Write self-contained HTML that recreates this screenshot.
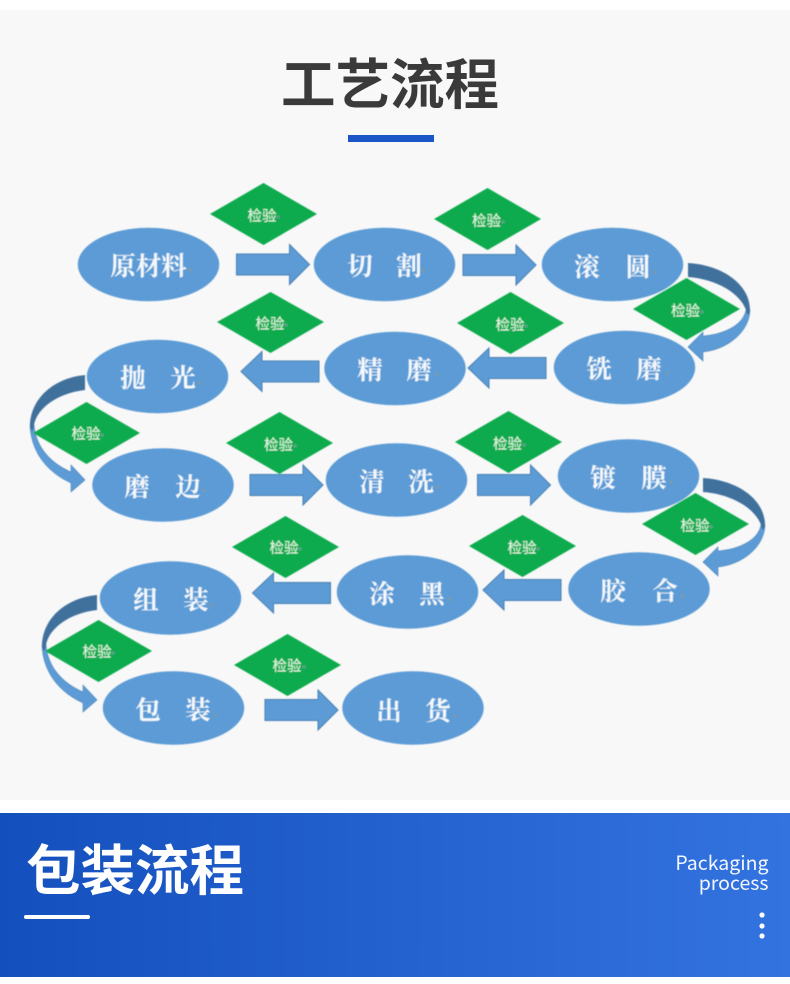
<!DOCTYPE html>
<html lang="zh"><head><meta charset="utf-8"><title>工艺流程</title>
<style>
html,body{margin:0;padding:0;background:#fff}
body{width:790px;height:984px;overflow:hidden;position:relative}
svg{position:absolute;left:0;top:0}
</style></head><body>
<svg width="790" height="984" viewBox="0 0 790 984" xmlns="http://www.w3.org/2000/svg">
<defs>
<linearGradient id="bn" x1="0" x2="1" y1="0" y2="0"><stop offset="0" stop-color="#1450bd"/><stop offset="1" stop-color="#3373e0"/></linearGradient>
<filter id="soft" x="-5%" y="-5%" width="110%" height="110%"><feGaussianBlur stdDeviation="0.5"/></filter>
<g id="ar"><path d="M0 -10.500H53V-20L73 0L53 20V10.500H0Z" fill="#5b9bd5" stroke="#4a80b4" stroke-width="1"/></g>
<g id="al"><path d="M0 -10.500H-57V-20L-78 0L-57 20V10.500H0Z" fill="#5b9bd5" stroke="#4a80b4" stroke-width="1"/></g>
<g id="cl">
<path d="M30 425C31 452 47 472 71 483V492L85 480L71 465V472C50 463 36 447 34 425Z" fill="#5b9bd5" stroke="#4f86bb" stroke-width=".6"/>
<path d="M85 375C54 378 31 398 30 425C31 432 33 433 34 425C37 408 58 393 85 390Z" fill="#41719c"/>
</g>
<g id="cr">
<path d="M750 310C749 332 728 349 703 352V361L688 347L703 332V336C725 334 743 325 746 310Z" fill="#5b9bd5" stroke="#4f86bb" stroke-width=".6"/>
<path d="M688 263C722 265 750 284 750 310C749 316 747 316 746 310C740 293 716 279 688 277Z" fill="#41719c"/>
</g>
</defs>
<rect x="0" y="10" width="790" height="790" fill="#f8f8f8"/>
<g filter="url(#soft)">
<use href="#cr"/><use href="#cr" transform="translate(15,215)"/>
<use href="#cl"/><use href="#cl" transform="translate(12,220)"/>
<g fill="#5b9bd5" stroke="#5b9bd5" stroke-width="0.500">
<ellipse cx="148.500" cy="264.500" rx="70.500" ry="36.500"/>
<ellipse cx="384.500" cy="264.500" rx="70.500" ry="36.500"/>
<ellipse cx="612.500" cy="264.500" rx="70.500" ry="36.500"/>
<ellipse cx="624.500" cy="367.500" rx="70.500" ry="36.500"/>
<ellipse cx="395" cy="368.500" rx="70.500" ry="36.500"/>
<ellipse cx="157.500" cy="376.500" rx="70.500" ry="36.500"/>
<ellipse cx="163" cy="485" rx="70.500" ry="36.500"/>
<ellipse cx="396.500" cy="480" rx="70.500" ry="36.500"/>
<ellipse cx="628.500" cy="476" rx="70.500" ry="36.500"/>
<ellipse cx="639" cy="589" rx="70.500" ry="36.500"/>
<ellipse cx="407.500" cy="592" rx="70.500" ry="36.500"/>
<ellipse cx="170.500" cy="598" rx="70.500" ry="36.500"/>
<ellipse cx="173.500" cy="708" rx="70.500" ry="36.500"/>
<ellipse cx="413" cy="708" rx="70.500" ry="36.500"/>
</g>
<use href="#ar" x="236.500" y="264.500"/><use href="#ar" x="463" y="265"/>
<use href="#al" x="319" y="371.500"/><use href="#al" x="546" y="368"/>
<use href="#ar" x="250" y="485"/><use href="#ar" x="477.500" y="485"/>
<use href="#al" x="330.500" y="593"/><use href="#al" x="561" y="590"/>
<use href="#ar" x="265" y="710"/>
<g fill="#0bab4d">
<path d="M210 214L263.500 183L317 214L263.500 245Z"/>
<path d="M434 219L487.500 188L541 219L487.500 250Z"/>
<path d="M633 309L686.500 278L740 309L686.500 340Z"/>
<path d="M217 322L270.500 292L324 322L270.500 353Z"/>
<path d="M457 323L510.500 292L564 323L510.500 354Z"/>
<path d="M33 433L86.500 402L140 433L86.500 464Z"/>
<path d="M226 443L279.500 412L333 443L279.500 474Z"/>
<path d="M455 442L508.500 411L562 442L508.500 473Z"/>
<path d="M642 524L695.500 493L749 524L695.500 555Z"/>
<path d="M232 547L285.500 516L339 547L285.500 578Z"/>
<path d="M469 546L522.500 515L576 546L522.500 577Z"/>
<path d="M45 651L98.500 620L152 651L98.500 682Z"/>
<path d="M234 665L287.500 634L341 665L287.500 696Z"/>
</g>
<g font-family="'Liberation Sans','Noto Sans CJK SC',sans-serif" font-size="14.500" fill="#e6fbe9" text-anchor="middle">
<text x="262" y="221">检验</text><text x="486.500" y="226">检验</text><text x="685.500" y="316">检验</text>
<text x="270" y="329">检验</text><text x="510" y="330">检验</text><text x="86" y="439">检验</text>
<text x="278.500" y="450">检验</text><text x="507.500" y="449">检验</text><text x="695" y="531">检验</text>
<text x="284" y="553">检验</text><text x="522" y="553">检验</text><text x="97" y="657">检验</text>
<text x="287" y="671">检验</text>
</g>
<g fill="#7f9aa8" opacity=".7">
<circle cx="278" cy="217" r="1.800"/><circle cx="503" cy="222" r="1.800"/><circle cx="702" cy="312" r="1.800"/>
<circle cx="286" cy="325" r="1.800"/><circle cx="526" cy="326" r="1.800"/><circle cx="102" cy="435" r="1.800"/>
<circle cx="295" cy="446" r="1.800"/><circle cx="524" cy="445" r="1.800"/><circle cx="711" cy="527" r="1.800"/>
<circle cx="300" cy="549" r="1.800"/><circle cx="538" cy="549" r="1.800"/><circle cx="113" cy="653" r="1.800"/>
<circle cx="304" cy="667" r="1.800"/>
<circle cx="190" cy="270" r="2"/><circle cx="423" cy="270" r="2"/><circle cx="655" cy="272" r="2"/>
<circle cx="667" cy="373" r="2"/><circle cx="437" cy="374" r="2"/><circle cx="200" cy="383" r="2"/>
<circle cx="204" cy="491" r="2"/><circle cx="438" cy="487" r="2"/><circle cx="671" cy="482" r="2"/>
<circle cx="682" cy="596" r="2"/><circle cx="450" cy="599" r="2"/><circle cx="212" cy="605" r="2"/>
<circle cx="216" cy="715" r="2"/><circle cx="455" cy="716" r="2"/>
</g>
<g font-family="'Liberation Serif','Noto Serif CJK SC',serif" font-size="25.500" font-weight="700" fill="#f3f8fc" text-anchor="middle">
<text x="148.500" y="275">原材料</text>
<text x="360" y="275">切</text><text x="409" y="275">割</text>
<text x="587" y="276">滚</text><text x="638" y="276">圆</text>
<text x="599" y="378">铣</text><text x="649" y="378">磨</text>
<text x="370" y="379">精</text><text x="419" y="379">磨</text>
<text x="133" y="387">抛</text><text x="183" y="387">光</text>
<text x="137" y="496">磨</text><text x="188" y="496">边</text>
<text x="372" y="491">清</text><text x="421" y="491">洗</text>
<text x="603" y="487">镀</text><text x="654" y="487">膜</text>
<text x="613" y="600">胶</text><text x="665" y="600">合</text>
<text x="382" y="603">涂</text><text x="432" y="603">黑</text>
<text x="146" y="609">组</text><text x="196" y="609">装</text>
<text x="148" y="719">包</text><text x="198" y="719">装</text>
<text x="389" y="720">出</text><text x="438" y="720">货</text>
</g>
</g>
<text x="390" y="104" text-anchor="middle" font-family="'Liberation Sans','Noto Sans CJK SC',sans-serif" font-size="54.500" font-weight="700" fill="#3a3a3a">工艺流程</text>
<rect x="348" y="135" width="86" height="7" fill="#1a56c8"/>
<rect x="0" y="813" width="790" height="164" fill="url(#bn)"/>
<text x="26" y="890" font-family="'Liberation Sans','Noto Sans CJK SC',sans-serif" font-size="54.500" font-weight="700" fill="#fff">包装流程</text>
<rect x="24" y="915" width="66" height="4" rx="2" fill="#fff"/>
<g font-family="'Noto Sans CJK SC','Liberation Sans',sans-serif" font-size="19.500" fill="#f2f6ff" text-anchor="end">
<text x="768.500" y="870">Packaging</text><text x="768.500" y="890">process</text>
</g>
<circle cx="762" cy="915" r="2.600" fill="#fff"/><circle cx="762" cy="926" r="2.600" fill="#fff"/><circle cx="762" cy="936" r="2.600" fill="#fff"/>
</svg>
</body></html>
